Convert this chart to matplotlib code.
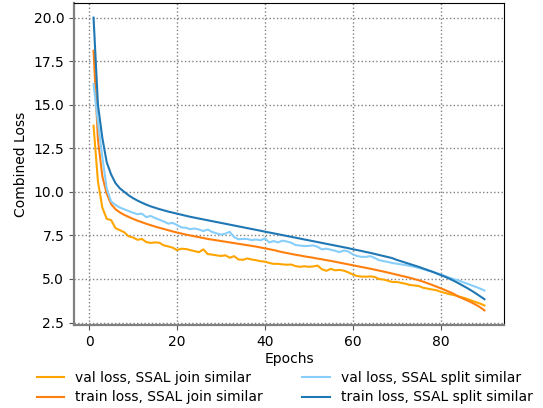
import matplotlib
matplotlib.use("Agg")
import matplotlib.pyplot as plt
import numpy as np

epochs = list(range(1, 91))

val_join = [13.8, 10.6, 9.1, 8.45, 8.38, 7.92, 7.8, 7.68, 7.45, 7.38,
            7.25, 7.3, 7.12, 7.07, 7.1, 7.08, 6.93, 6.87, 6.8, 6.66,
            6.74, 6.72, 6.66, 6.6, 6.54, 6.7, 6.43, 6.4, 6.36, 6.32,
            6.36, 6.22, 6.31, 6.12, 6.1, 6.18, 6.12, 6.08, 6.02, 6.0,
            5.92, 5.87, 5.87, 5.84, 5.82, 5.83, 5.74, 5.7, 5.73, 5.7,
            5.72, 5.77, 5.56, 5.47, 5.58, 5.5, 5.52, 5.48, 5.38, 5.26,
            5.17, 5.14, 5.13, 5.15, 5.12, 5.0, 4.97, 4.9, 4.83, 4.83,
            4.78, 4.73, 4.66, 4.63, 4.6, 4.5, 4.45, 4.4, 4.36, 4.27,
            4.2, 4.13, 4.08, 4.01, 3.94, 3.86, 3.77, 3.68, 3.59, 3.48]

train_join = [18.1, 13.0, 10.9, 9.9, 9.3, 9.0, 8.82, 8.68, 8.56, 8.45,
              8.35, 8.26, 8.17, 8.09, 8.01, 7.94, 7.87, 7.8, 7.73, 7.67,
              7.61, 7.55, 7.5, 7.45, 7.4, 7.35, 7.3, 7.26, 7.22, 7.18,
              7.14, 7.1, 7.06, 7.02, 6.98, 6.94, 6.9, 6.86, 6.81, 6.76,
              6.71, 6.66, 6.6, 6.54, 6.49, 6.44, 6.39, 6.35, 6.3, 6.26,
              6.22, 6.17, 6.13, 6.08, 6.04, 5.99, 5.94, 5.89, 5.84, 5.79,
              5.74, 5.69, 5.64, 5.59, 5.54, 5.48, 5.43, 5.37, 5.31, 5.25,
              5.19, 5.13, 5.07, 5.0, 4.93, 4.85, 4.76, 4.67, 4.57, 4.47,
              4.37, 4.26, 4.15, 4.0, 3.89, 3.78, 3.66, 3.53, 3.38, 3.2]

val_split = [16.2, 14.0, 12.0, 10.2, 9.45, 9.25, 9.1, 9.0, 8.9, 8.8,
             8.72, 8.75, 8.55, 8.62, 8.5, 8.4, 8.3, 8.18, 8.22, 8.1,
             7.96, 7.94, 7.86, 7.9, 7.84, 7.75, 7.84, 7.7, 7.62, 7.55,
             7.6, 7.71, 7.4, 7.28, 7.3, 7.3, 7.23, 7.27, 7.22, 7.33,
             7.1, 7.18, 7.1, 7.2, 7.15, 7.08, 6.95, 6.92, 6.89, 6.9,
             6.93, 6.85, 6.7, 6.74, 6.68, 6.62, 6.54, 6.64, 6.58, 6.42,
             6.32, 6.27, 6.27, 6.31, 6.21, 6.08, 6.03, 5.98, 5.92, 5.88,
             5.84, 5.8, 5.75, 5.7, 5.64, 5.57, 5.49, 5.43, 5.35, 5.27,
             5.17, 5.08, 4.99, 4.93, 4.83, 4.74, 4.64, 4.55, 4.45, 4.34]

train_split = [20.0, 15.0, 13.1, 11.7, 11.0, 10.5, 10.2, 10.0, 9.8, 9.64,
               9.5, 9.38, 9.27, 9.17, 9.09, 9.01, 8.94, 8.87, 8.81, 8.75,
               8.69, 8.63, 8.57, 8.52, 8.47, 8.42, 8.37, 8.32, 8.27, 8.22,
               8.17, 8.12, 8.07, 8.02, 7.97, 7.92, 7.87, 7.82, 7.77, 7.72,
               7.67, 7.62, 7.57, 7.52, 7.47, 7.42, 7.37, 7.32, 7.27, 7.22,
               7.17, 7.12, 7.07, 7.02, 6.97, 6.92, 6.87, 6.82, 6.77, 6.71,
               6.66, 6.61, 6.55, 6.5, 6.44, 6.38, 6.32, 6.26, 6.2, 6.1,
               6.02, 5.94, 5.86, 5.78, 5.7, 5.61, 5.52, 5.43, 5.33, 5.23,
               5.13, 5.02, 4.9, 4.77, 4.63, 4.49, 4.34, 4.18, 4.01, 3.84]

series = [
    ("val loss, SSAL join similar", val_join, "#FFA500"),
    ("train loss, SSAL join similar", train_join, "#FF7F0E"),
    ("val loss, SSAL split similar", val_split, "#87CEFA"),
    ("train loss, SSAL split similar", train_split, "#1F77B4"),
]

FS = 10

fig = plt.figure(figsize=(5.43, 4.08), dpi=100)
ax = fig.add_axes([74/543, 1-325/408, 430/543, 322/408])

for label, vals, color in series:
    ax.plot(epochs, vals, color=color, linewidth=1.5, label=label)

ax.grid(True, linestyle=":", color="gray", linewidth=1)
ax.set_xticks([0, 20, 40, 60, 80])
ax.set_yticks([2.5, 5.0, 7.5, 10.0, 12.5, 15.0, 17.5, 20.0])
ax.set_xlabel("Epochs", fontsize=FS, labelpad=2)
ax.set_ylabel("Combined Loss", fontsize=FS)

for s in ["left", "bottom"]:
    ax.spines[s].set_color("#808080")
    ax.spines[s].set_linewidth(1.6)
for s in ["top", "right"]:
    ax.spines[s].set_color("black")
    ax.spines[s].set_linewidth(0.8)
ax.tick_params(axis="both", colors="#555555", labelcolor="black", labelsize=FS)

ax.legend(loc="upper center", bbox_to_anchor=(0.49, -0.125), ncol=2,
          frameon=False, fontsize=FS, columnspacing=2.8, handlelength=2.0,
          borderaxespad=0.0, labelspacing=0.4)

fig.savefig("out.png", dpi=100)
